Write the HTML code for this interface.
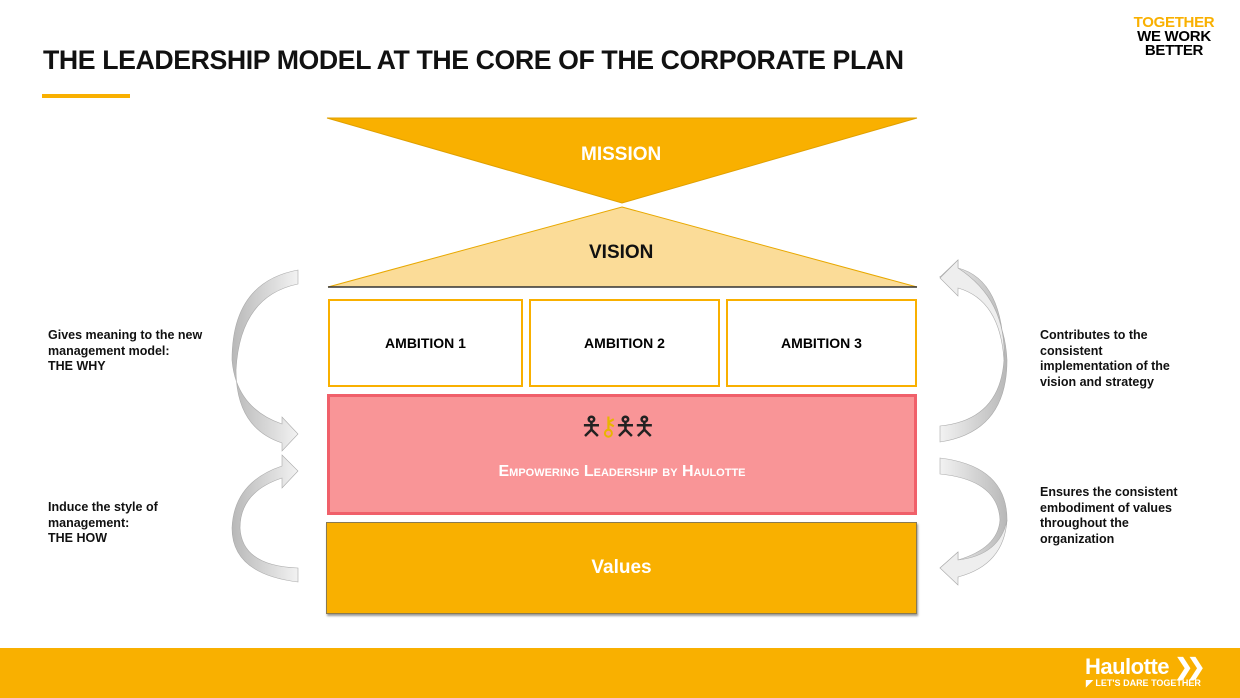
<!DOCTYPE html>
<html><head><meta charset="utf-8"><style>
body{margin:0;width:1240px;height:698px;position:relative;background:#fff;font-family:"Liberation Sans",Arial,sans-serif;overflow:hidden}
.a{position:absolute}
.t{font-weight:bold;color:#111}
.box{position:absolute;box-sizing:border-box;display:flex;align-items:center;justify-content:center;font-weight:bold}
.side{position:absolute;font-size:12.5px;font-weight:bold;line-height:15.5px;color:#111}
</style></head><body>
<div class="a t" style="left:43px;top:45px;font-size:26.7px;letter-spacing:-0.4px">THE LEADERSHIP MODEL AT THE CORE OF THE CORPORATE PLAN</div>
<div class="a" style="left:42px;top:94px;width:88px;height:4px;background:#f9b000"></div>
<div class="a" style="left:1126px;top:16px;font-size:15px;font-weight:900;line-height:14px;text-align:center;width:96px;letter-spacing:-0.3px"><span style="color:#f9b000">TOGETHER</span><br>WE WORK<br>BETTER</div>

<svg class="a" style="left:0;top:0" width="1240" height="698">
<defs><linearGradient id="g" x1="0" y1="0" x2="1" y2="0"><stop offset="0" stop-color="#b8b8b8"/><stop offset="1" stop-color="#f2f2f2"/></linearGradient>
<linearGradient id="g2" x1="1" y1="0" x2="0" y2="0"><stop offset="0" stop-color="#b8b8b8"/><stop offset="1" stop-color="#f2f2f2"/></linearGradient></defs>
<polygon points="327,118 917,118 622,203" fill="#f9b000" stroke="#e0a000"/>
<polygon points="622,207 917,287 328,287" fill="#fbdc98" stroke="#e8a800"/>
<line x1="328" y1="287" x2="917" y2="287" stroke="#333" stroke-width="1.5"/>
<path d="M298,270 Q232,282 232,360 Q236,408 282,424 L282,417 L298,434 L282,451 L282,443 Q236,428 236,370 Q240,296 298,284 Z" fill="url(#g)" stroke="#aaa" stroke-width="0.6"/>
<path d="M298,582 Q232,574 232,528 Q234,482 282,466 L282,455 L298,471 L282,488 L282,478 Q240,492 240,528 Q242,566 298,568 Z" fill="url(#g)" stroke="#aaa" stroke-width="0.6"/>
<path d="M940,442 Q1007,432 1007,360 Q1004,300 958,282 L958,276 L940,277 L942,278 L940,277 L958,260 L958,268 Q1004,280 1004,360 Q1000,420 940,426 Z" fill="url(#g2)" stroke="#aaa" stroke-width="0.6"/>
<path d="M958,260 L940,278 L958,296 L958,288 Q1000,300 1004,360 Q1007,300 958,268 Z" fill="#eee" stroke="#aaa" stroke-width="0.6"/>
<path d="M940,458 Q1007,466 1007,520 Q1004,555 958,570 L958,578 L940,568 L958,552 L958,560 Q998,548 1000,520 Q998,480 940,474 Z" fill="url(#g2)" stroke="#aaa" stroke-width="0.6"/>
<path d="M958,552 L940,568 L958,585 L958,577 Q1004,565 1007,520 Q1000,555 958,560 Z" fill="#eee" stroke="#aaa" stroke-width="0.6"/>
</svg>

<div class="a" style="left:581px;top:144px;font-size:19px;font-weight:bold;color:#fff">MISSION</div>
<div class="a" style="left:589px;top:242px;font-size:19px;font-weight:bold;color:#111">VISION</div>

<div class="box" style="left:328px;top:299px;width:195px;height:88px;border:2px solid #f9b000;font-size:14px">AMBITION 1</div>
<div class="box" style="left:529px;top:299px;width:191px;height:88px;border:2px solid #f9b000;font-size:14px">AMBITION 2</div>
<div class="box" style="left:726px;top:299px;width:191px;height:88px;border:2px solid #f9b000;font-size:14px">AMBITION 3</div>

<div class="box" style="left:327px;top:394px;width:590px;height:121px;background:#f99597;border:3px solid #f0606a;color:#fff;font-size:16px;padding-top:34px;font-variant:small-caps">Empowering Leadership by Haulotte</div>
<div class="a" style="left:580px;top:408px;font-size:26px;letter-spacing:-4px;color:#222">🯅<span style="color:#e8b500">⚷</span>🯅🯅</div>

<div class="box" style="left:326px;top:522px;width:591px;height:92px;background:#f9b000;border:1px solid #8a7a50;box-shadow:1px 2px 2px #999;color:#fff;font-size:19px">Values</div>

<div class="side" style="left:48px;top:328px">Gives meaning to the new<br>management model:<br>THE WHY</div>
<div class="side" style="left:48px;top:500px">Induce the style of<br>management:<br>THE HOW</div>
<div class="side" style="left:1040px;top:328px">Contributes to the<br>consistent<br>implementation of the<br>vision and strategy</div>
<div class="side" style="left:1040px;top:485px">Ensures the consistent<br>embodiment of values<br>throughout the<br>organization</div>

<div class="a" style="left:0;top:648px;width:1240px;height:50px;background:#f9b000"></div>
<div class="a" style="left:1085px;top:654px;font-size:22px;font-weight:bold;color:#fff;letter-spacing:-0.5px">Haulotte <span style="letter-spacing:-6px">❯❯</span></div>
<div class="a" style="left:1086px;top:678px;font-size:9px;font-weight:bold;color:#fff">◤ LET'S DARE TOGETHER</div>
</body></html>
